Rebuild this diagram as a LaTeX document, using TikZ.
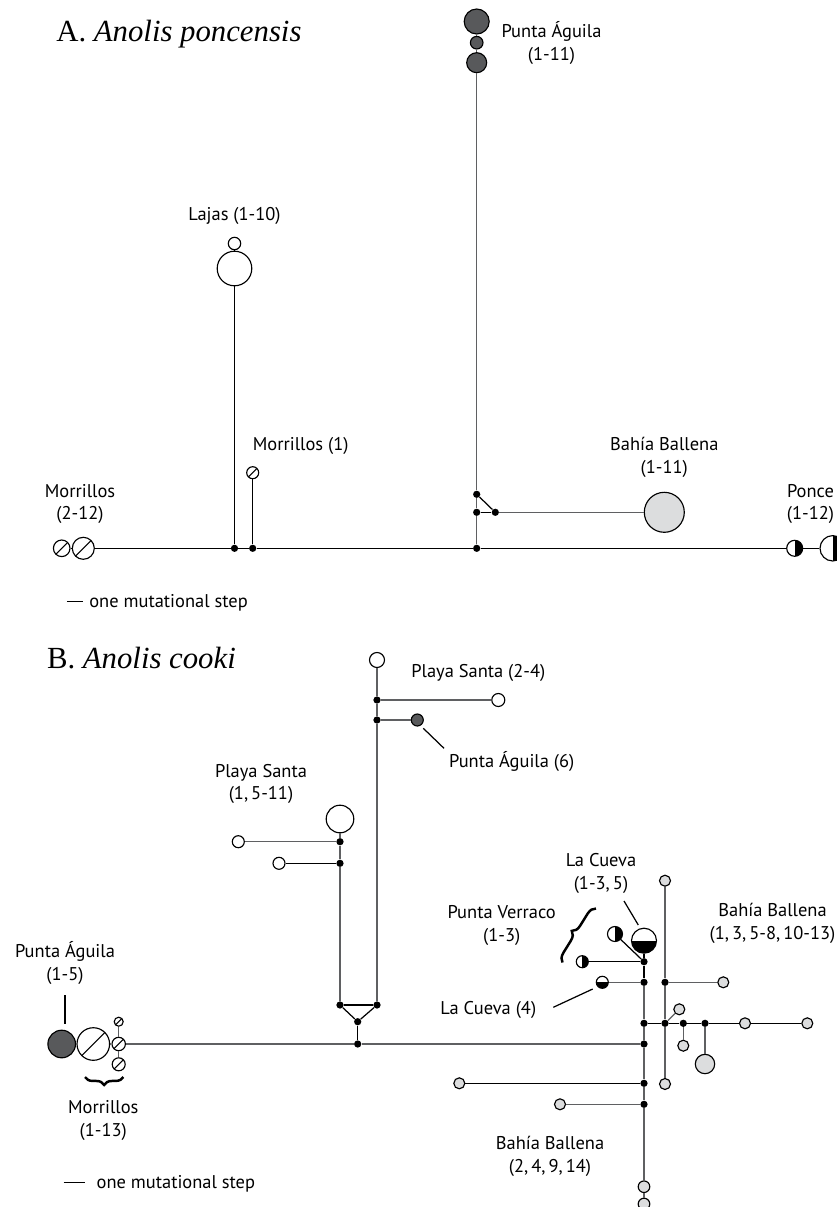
\documentclass[tikz,border=0pt]{standalone}
\usepackage{fontspec}
\setmainfont{Liberation Serif}
\setsansfont{PT Sans}
\usetikzlibrary{decorations.pathreplacing}

\definecolor{linegray}{HTML}{5F6062}
\definecolor{hapgray}{HTML}{DCDDDE}
\definecolor{hapdark}{HTML}{58595B}

\begin{document}
\begin{tikzpicture}[
  x=0.02cm, y=0.02cm,
  font=\sffamily\fontsize{10.5}{13}\selectfont,
  hap/.style={circle, draw, line width=0.65pt, inner sep=0pt, minimum size=#1*0.04cm},
  hw/.style={hap=#1, fill=white},
  hl/.style={hap=#1, fill=hapgray},
  hd/.style={hap=#1, fill=hapdark},
  slash/.style={path picture={\draw[line width=0.6pt] (path picture bounding box.south west) -- (path picture bounding box.north east);}},
  rhalf/.style={path picture={\fill[black] (path picture bounding box.north) rectangle (path picture bounding box.south east);}},
  bhalf/.style={path picture={\fill[black] (path picture bounding box.west) rectangle (path picture bounding box.south east);}},
  dot/.style={circle, fill=black, inner sep=0pt, minimum size=0.145cm},
  link/.style={line width=0.7pt, draw=linegray},
  blink/.style={line width=0.7pt, draw=black},
  lbl/.style={align=center, inner sep=0pt},
  ttl/.style={font=\rmfamily\fontsize{17.5}{21}\selectfont, anchor=base west, inner sep=0pt},
  brc/.style={line width=1.4pt, decorate, decoration={brace, amplitude=#1}}]
\useasboundingbox (0,0) rectangle (836,-1207);

% A. Anolis poncensis
\node[ttl] (titleA) at (56,-41) {A. \textit{Anolis poncensis}};
\node[hd=12.5] (pa1) at (476.7,-21.5) {};
\node[hd=6.3] (pa2) at (476.7,-42.7) {};
\node[hd=10] (pa3) at (476.7,-62.7) {};
\node[lbl] (paLbl) at (551.5,-43) {Punta Águila\\(1-11)};
\node[hw=6.2] (la1) at (234.5,-243.5) {};
\node[hw=17.3] (la2) at (234.5,-268.5) {};
\node[lbl] (laLbl) at (234.5,-216) {Lajas (1-10)};
\node[hw=8.3, slash] (mo1) at (61.7,-548.3) {};
\node[hw=11, slash] (mo2) at (83.3,-548.3) {};
\node[lbl] (moLbl) at (80,-504) {Morrillos\\(2-12)};
\node[hw=6, slash] (mo3) at (252.7,-472.7) {};
\node[lbl] (mo3Lbl) at (300.7,-445.7) {Morrillos (1)};
\node[dot] (d1) at (234.5,-548.3) {};
\node[dot] (d2) at (252.7,-548.3) {};
\node[dot] (d3) at (476.7,-548.3) {};
\node[dot] (d4) at (476.7,-494.3) {};
\node[dot] (d5) at (476.7,-512.3) {};
\node[dot] (d6) at (495.3,-512.3) {};
\node[hl=20] (bb) at (664.3,-512.3) {};
\node[lbl] (bbLbl) at (664.3,-457) {Bahía Ballena\\(1-11)};
\node[hw=8, rhalf] (po1) at (794.7,-548.3) {};
\node[hw=12.7, rhalf] (po2) at (832.7,-548.3) {};
\node[lbl] (poLbl) at (810.5,-504) {Ponce\\(1-12)};
\node[anchor=base west, inner sep=0pt] (stepA) at (66.5,-607)
  {\raisebox{0.3em}{\rule{9.4pt}{0.5pt}}\hspace{3.4pt}one mutational step};

\draw[link] (pa1) -- (pa2);
\draw[link] (pa2) -- (pa3);
\draw[link] (pa3) -- (d4);
\draw[link] (d4) -- (d5);
\draw[link] (d5) -- (d3);
\draw[blink] (d4) -- (d6);
\draw[blink] (d5) -- (d6);
\draw[link] (d6) -- (bb);
\draw[blink] (la1) -- (la2);
\draw[blink] (la2) -- (d1);
\draw[blink] (mo1) -- (mo2);
\draw[blink] (mo2) -- (d1);
\draw[blink] (d1) -- (d2);
\draw[blink] (d2) -- (d3);
\draw[blink] (d3) -- (po1);
\draw[blink] (po1) -- (po2);
\draw[blink] (mo3) -- (d2);

% B. Anolis cooki
\node[ttl] (titleB) at (46.7,-668) {B. \textit{Anolis cooki}};
\node[hw=7.5] (pt1) at (377,-660) {};
\node[dot] (e1) at (377,-700) {};
\node[dot] (e2) at (377,-720) {};
\node[hw=6.5] (ps1) at (498.3,-700) {};
\node[hd=6] (pa6) at (417.3,-720) {};
\node[lbl] (ps1Lbl) at (478.3,-673.3) {Playa Santa (2-4)};
\node[lbl] (pa6Lbl) at (511.7,-761.7) {Punta Águila (6)};
\node[hw=13.8] (psb) at (340,-819) {};
\node[dot] (f1) at (340,-841.7) {};
\node[dot] (f2) at (340,-863.3) {};
\node[hw=6] (ps2) at (238.3,-841.7) {};
\node[hw=6] (ps3) at (279,-863.3) {};
\node[lbl] (psbLbl) at (261,-784) {Playa Santa\\(1,\,5-11)};
\node[dot] (g1) at (340,-1005) {};
\node[dot] (g2) at (377,-1005) {};
\node[dot] (g3) at (357.7,-1021.7) {};
\node[dot] (g4) at (357.7,-1044) {};

\node[hd=13.8] (paB) at (61.7,-1044) {};
\node[lbl] (paBLbl) at (65,-963.3) {Punta Águila\\(1-5)};
\node[hw=16.3, slash] (moB) at (93.3,-1044) {};
\node[hw=4.5, slash] (m1) at (118.7,-1021.7) {};
\node[hw=6.7, slash] (m2) at (118.7,-1044) {};
\node[hw=6.5, slash] (m3) at (118.7,-1064.3) {};
\node[lbl] (moBLbl) at (103.3,-1120.5) {Morrillos\\(1-13)};
\node[anchor=base west, inner sep=0pt] (stepB) at (63.3,-1188)
  {\raisebox{0.3em}{\rule{12.3pt}{0.45pt}}\hspace{6.5pt}one mutational step};

\node[hw=12.5, bhalf] (lc) at (644,-940.7) {};
\node[hw=7.5, rhalf] (pv1) at (615,-934) {};
\node[hw=6, rhalf] (pv2) at (582.3,-961.7) {};
\node[hw=6, bhalf] (lc4) at (602.3,-982.3) {};
\node[dot] (h1) at (644,-961.7) {};
\node[dot] (h2) at (644,-982.3) {};
\node[dot] (h3) at (644,-1023.3) {};
\node[dot] (h4) at (644,-1044) {};
\node[dot] (h5) at (644,-1083.3) {};
\node[dot] (h6) at (644,-1104.3) {};
\node[hl=5.8] (bt11) at (644,-1186.7) {};
\node[hl=5.8] (bt12) at (644,-1204) {};
\node[hl=5.5] (bt9) at (459.3,-1083.3) {};
\node[hl=5.5] (bt10) at (560,-1104.3) {};
\node[hl=5.5] (bt1) at (665,-880.7) {};
\node[dot] (k1) at (665,-982.3) {};
\node[dot] (k2) at (665,-1023.3) {};
\node[dot] (k3) at (683.3,-1023.3) {};
\node[dot] (k4) at (705,-1023.3) {};
\node[hl=5.5] (bt2) at (723.3,-982.3) {};
\node[hl=5.5] (bt3) at (745,-1023.3) {};
\node[hl=5.5] (bt4) at (807.3,-1023.3) {};
\node[hl=5.5] (bt5) at (679.3,-1009.3) {};
\node[hl=5.5] (bt6) at (683.3,-1045.7) {};
\node[hl=9.7] (bt7) at (705,-1064) {};
\node[hl=5.5] (bt8) at (665,-1084) {};
\node[lbl] (lcLbl) at (601,-873.3) {La Cueva\\(1-3,\,5)};
\node[lbl] (pvLbl) at (501.7,-925.7) {Punta Verraco\\(1-3)};
\node[lbl] (lc4Lbl) at (488.3,-1010) {La Cueva (4)};
\node[lbl] (bt1Lbl) at (772.5,-923.7) {Bahía Ballena\\(1,\,3,\,5-8,\,10-13)};
\node[lbl] (bt9Lbl) at (550,-1156) {Bahía Ballena\\(2,\,4,\,9,\,14)};

% leader ends
\coordinate (pa6a) at (423.3,-728.3);
\coordinate (pa6b) at (444,-748.3);
\coordinate (paBa) at (65,-995);
\coordinate (paBb) at (65,-1024);
\coordinate (lca) at (624,-901);
\coordinate (lcb) at (638.3,-925);
\coordinate (lc4a) at (553.3,-1007.3);
\coordinate (lc4b) at (592.7,-989);
\coordinate (moBa) at (123.3,-1077);
\coordinate (moBb) at (85,-1077);
\coordinate (pva) at (562.5,-962.5);
\coordinate (pvb) at (596,-908.5);

\draw[link] (pt1) -- (e1);
\draw[link] (e1) -- (e2);
\draw[link] (e2) -- (g2);
\draw[link] (e1) -- (ps1);
\draw[link] (e2) -- (pa6);
\draw[link] (psb) -- (f1);
\draw[link] (f1) -- (f2);
\draw[link] (f2) -- (g1);
\draw[link] (f1) -- (ps2);
\draw[blink] (f2) -- (ps3);
\draw[blink] (g1) -- (g2);
\draw[blink] (g1) -- (g3);
\draw[blink] (g2) -- (g3);
\draw[blink] (g3) -- (g4);
\draw[link] (moB) -- (m2);
\draw[link] (m1) -- (m2);
\draw[link] (m2) -- (m3);
\draw[link] (m2) -- (g4);
\draw[link] (g4) -- (h4);
\draw[blink] (lc) -- (h1);
\draw[blink] (pv1) -- (h1);
\draw[blink] (pv2) -- (h1);
\draw[blink] (h1) -- (h2);
\draw[link] (h2) -- (h3);
\draw[link] (h3) -- (h4);
\draw[link] (h4) -- (h5);
\draw[link] (h5) -- (h6);
\draw[link] (h6) -- (bt11);
\draw[link] (bt11) -- (bt12);
\draw[link] (lc4) -- (h2);
\draw[link] (bt1) -- (k1);
\draw[link] (k1) -- (k2);
\draw[link] (k2) -- (bt8);
\draw[link] (k1) -- (bt2);
\draw[blink] (h3) -- (k2);
\draw[blink] (k2) -- (k3);
\draw[blink] (k3) -- (k4);
\draw[blink] (k4) -- (bt3);
\draw[blink] (bt3) -- (bt4);
\draw[link] (k2) -- (bt5);
\draw[link] (k3) -- (bt6);
\draw[link] (k4) -- (bt7);
\draw[blink] (h5) -- (bt9);
\draw[link] (h6) -- (bt10);

\draw[blink] (pa6a) -- (pa6b);
\draw[blink] (paBa) -- (paBb);
\draw[blink] (lca) -- (lcb);
\draw[blink] (lc4a) -- (lc4b);
\draw[brc=4.5pt] (moBa) -- (moBb);
\draw[brc=5pt] (pva) -- (pvb);
\end{tikzpicture}
\end{document}
